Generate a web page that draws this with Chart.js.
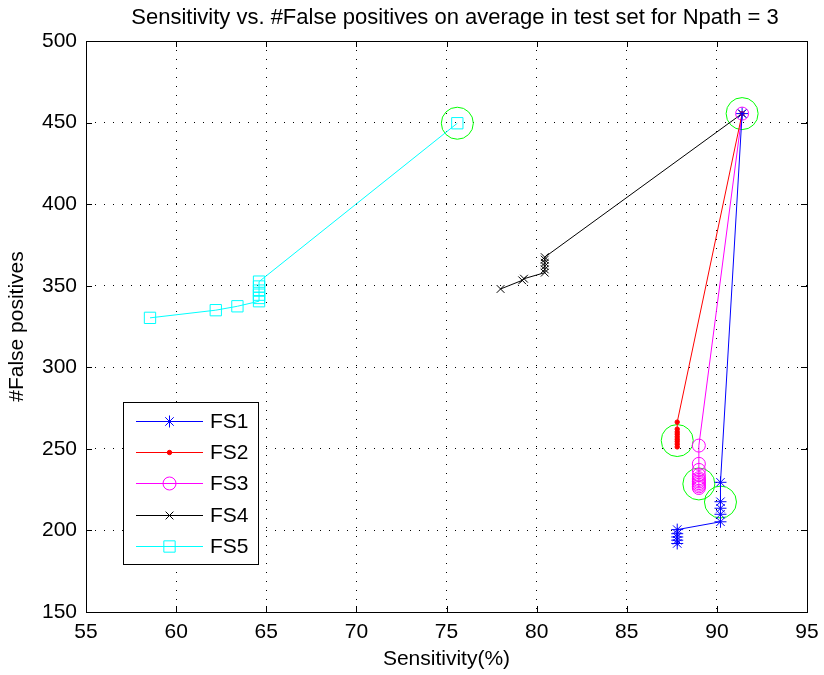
<!DOCTYPE html>
<html>
<head>
<meta charset="utf-8">
<script src="https://cdn.jsdelivr.net/npm/chart.js@4.4.1/dist/chart.umd.min.js"></script>
<style>
    html, body { margin: 0; padding: 0; background: #fff; }
    #wrap { width: 824px; height: 675px; }
</style>
</head>
<body>
<div id="wrap"><canvas id="chart" width="824" height="675"></canvas></div>
<script>
// Values
const fs1X = [87.8, 87.8, 87.8, 87.8, 87.8, 90.2, 90.2, 90.2, 90.2, 90.2, 91.4];
const fs1Y = [192, 194, 196, 198, 200.5, 205.3, 209.9, 213.6, 217.6, 229.5, 455.5];

const fs2X = [87.8, 87.8, 87.8, 87.8, 87.8, 87.8, 87.8, 87.8, 87.8, 91.4];
const fs2Y = [251.2, 252.9, 254.5, 255.9, 257.4, 259, 260.4, 262.1, 266.4, 455.5];

const fs3X = [89.0, 89.0, 89.0, 89.0, 89.0, 89.0, 89.0, 89.0, 89.0, 89.0, 89.0, 91.4];
const fs3Y = [226, 227, 228, 229, 230, 231, 232, 234, 237.1, 240.8, 252, 455.5];

const fs4X = [78.0, 79.2, 79.3, 80.45, 80.45, 80.45, 80.45, 80.45, 80.45, 91.4];
const fs4Y = [348, 353.3, 354.3, 358, 360, 362, 364, 366, 367.5, 455.5];

const fs5X = [58.55, 62.2, 63.4, 64.6, 64.6, 64.6, 64.6, 64.6, 64.6, 75.6];
const fs5Y = [330.3, 335, 337.4, 340.5, 342.5, 344.5, 347, 349.5, 352.5, 449.6];

// green highlight circles (best operating points)
const bestX = [75.6, 91.4, 87.8, 89.0, 90.2];
const bestY = [449.6, 455.5, 255.1, 228.5, 217.4];

const xTicks = [55, 60, 65, 70, 75, 80, 85, 90, 95];
const yTicks = [150, 200, 250, 300, 350, 400, 450, 500];

const TITLE = "Sensitivity vs. #False positives on average in test set for Npath = 3";
const FONT = "'Liberation Sans', Arial, Helvetica, sans-serif";

function toPoints(xs, ys) {
    return xs.map((x, i) => ({ x: x, y: ys[i] }));
}

function series(label, xs, ys, color, style, radius) {
    const filled = style === "circle" && radius < 3;
    return {
        label: label,
        data: toPoints(xs, ys),
        showLine: true,
        borderColor: color,
        backgroundColor: filled ? color : "rgba(0,0,0,0)",
        borderWidth: 1,
        pointStyle: style,
        pointRadius: radius,
        pointBorderColor: color,
        pointBorderWidth: 1,
        pointBackgroundColor: filled ? color : "rgba(0,0,0,0)"
    };
}

const datasets = [
    series("FS1", fs1X, fs1Y, "#0000ff", "star", 6),
    series("FS2", fs2X, fs2Y, "#ff0000", "circle", 2.2),
    series("FS3", fs3X, fs3Y, "#ff00ff", "circle", 6.5),
    series("FS4", fs4X, fs4Y, "#000000", "crossRot", 5.5),
    series("FS5", fs5X, fs5Y, "#00ffff", "rect", 8),
    {
        label: "best",
        data: toPoints(bestX, bestY),
        showLine: false,
        borderColor: "#00ff00",
        pointStyle: "circle",
        pointRadius: 16,
        pointBorderColor: "#00ff00",
        pointBorderWidth: 1,
        pointBackgroundColor: "rgba(0,0,0,0)"
    }
];

/* -------------------------------
   Title (centred a bit right, like MATLAB)
---------------------------------*/
const titlePlugin = {
    id: "plotTitle",
    afterDraw(chart) {
        const ctx = chart.ctx;
        ctx.save();
        ctx.fillStyle = "#000";
        ctx.font = "22px " + FONT;
        ctx.textAlign = "center";
        ctx.textBaseline = "alphabetic";
        ctx.fillText(TITLE, 455, 24);
        ctx.restore();
    }
};

/* -------------------------------
   Frame box with inward tick marks
---------------------------------*/
const framePlugin = {
    id: "frame",
    afterDatasetsDraw(chart) {
        const { ctx, chartArea: a, scales } = chart;
        ctx.save();
        ctx.strokeStyle = "#000";
        ctx.lineWidth = 1;
        ctx.setLineDash([]);
        ctx.beginPath();
        xTicks.forEach(v => {
            const px = Math.round(scales.x.getPixelForValue(v)) + 0.5;
            ctx.moveTo(px, a.bottom); ctx.lineTo(px, a.bottom - 6);
            ctx.moveTo(px, a.top); ctx.lineTo(px, a.top + 6);
        });
        yTicks.forEach(v => {
            const py = Math.round(scales.y.getPixelForValue(v)) + 0.5;
            ctx.moveTo(a.left, py); ctx.lineTo(a.left + 6, py);
            ctx.moveTo(a.right, py); ctx.lineTo(a.right - 6, py);
        });
        ctx.stroke();
        ctx.strokeRect(Math.round(a.left) + 0.5, Math.round(a.top) + 0.5,
            Math.round(a.right - a.left), Math.round(a.bottom - a.top));
        ctx.restore();
    }
};

/* -------------------------------
   Legend box inside the plot
---------------------------------*/
const boxLegendPlugin = {
    id: "boxLegend",
    afterDatasetsDraw(chart) {
        const ctx = chart.ctx;
        const left = 123, top = 402, width = 135, height = 162;
        const rowGap = 31.2, firstRow = 421;
        ctx.save();
        ctx.fillStyle = "#fff";
        ctx.fillRect(left, top, width, height);
        ctx.strokeStyle = "#000";
        ctx.lineWidth = 1;
        ctx.setLineDash([]);
        ctx.strokeRect(left + 0.5, top + 0.5, width, height);
        ctx.font = "21px " + FONT;
        ctx.textBaseline = "middle";
        datasets.slice(0, 5).forEach((ds, i) => {
            const y = Math.round(firstRow + i * rowGap) + 0.5;
            ctx.strokeStyle = ds.borderColor;
            ctx.fillStyle = ds.pointBackgroundColor;
            ctx.lineWidth = 1;
            ctx.beginPath();
            ctx.moveTo(136, y);
            ctx.lineTo(203, y);
            ctx.stroke();
            Chart.helpers.drawPoint(ctx, {
                pointStyle: ds.pointStyle,
                radius: ds.pointRadius,
                borderWidth: 1,
                rotation: 0
            }, 169.5, y);
            ctx.fillStyle = "#000";
            ctx.fillText(ds.label, 210, y + 1);
        });
        ctx.restore();
    }
};

new Chart(document.getElementById("chart").getContext("2d"), {
    type: "scatter",
    data: { datasets },
    options: {
        responsive: false,
        animation: false,
        layout: { padding: { left: 0, right: 15, top: 41, bottom: 0 } },
        plugins: {
            legend: { display: false },
            tooltip: { enabled: false },
            title: { display: false }
        },
        scales: {
            x: {
                type: "linear",
                min: 55,
                max: 95,
                afterFit: (s) => { s.height = 63; s.paddingLeft = 0; s.paddingRight = 0; },
                afterBuildTicks: (s) => { s.ticks = xTicks.map(v => ({ value: v })); },
                ticks: { color: "#000", font: { family: FONT, size: 21 }, padding: 8 },
                grid: { color: "#000", lineWidth: 1, drawTicks: false },
                border: { display: false, dash: [1, 8] },
                title: {
                    display: true,
                    text: "Sensitivity(%)",
                    color: "#000",
                    font: { family: FONT, size: 21 },
                    padding: { top: 0, bottom: 3 }
                }
            },
            y: {
                type: "linear",
                min: 150,
                max: 500,
                afterFit: (s) => { s.width = 86; s.paddingTop = 0; s.paddingBottom = 0; },
                afterBuildTicks: (s) => { s.ticks = yTicks.map(v => ({ value: v })); },
                ticks: { color: "#000", font: { family: FONT, size: 21 }, padding: 9 },
                grid: { color: "#000", lineWidth: 1, drawTicks: false },
                border: { display: false, dash: [1, 8] },
                title: {
                    display: true,
                    text: "#False positives",
                    color: "#000",
                    font: { family: FONT, size: 21 },
                    padding: { top: 5, bottom: 0 }
                }
            }
        }
    },
    plugins: [framePlugin, boxLegendPlugin, titlePlugin]
});
</script>
</body>
</html>
